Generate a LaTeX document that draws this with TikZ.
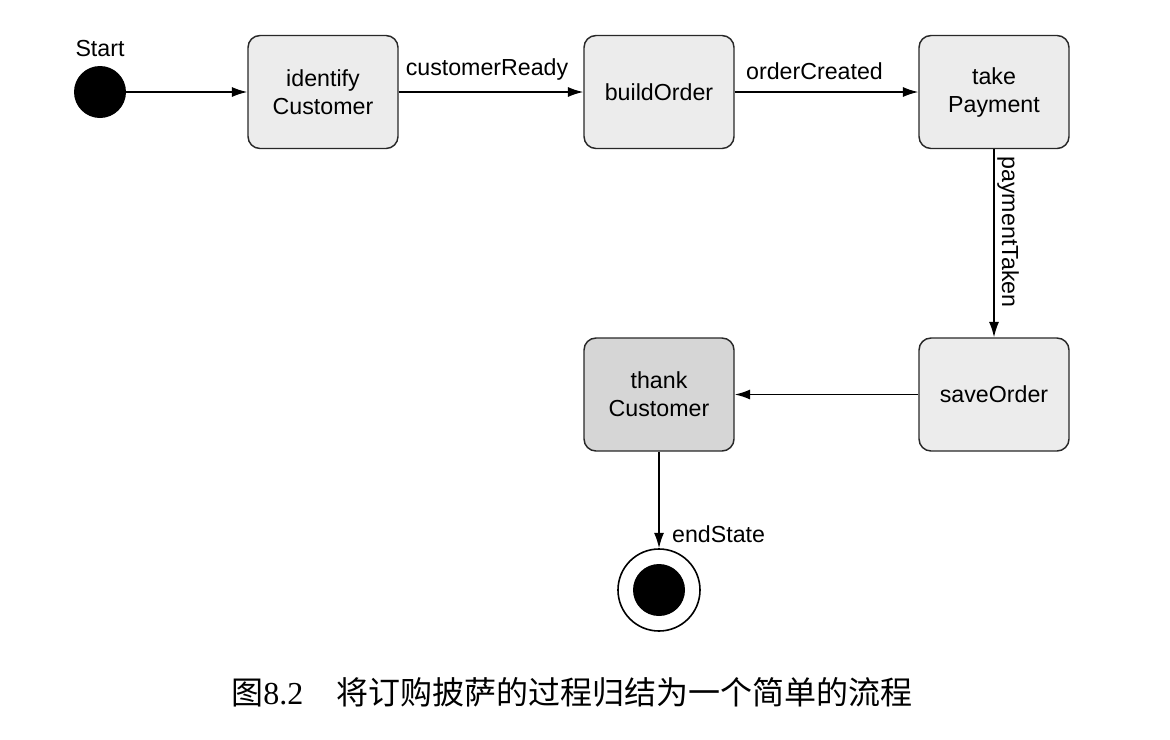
\documentclass[tikz,border=0pt]{standalone}
\usepackage{fontspec}
\setmainfont{Liberation Sans}
\newfontfamily\cjk{Noto Sans CJK SC}
\newfontfamily\capserif{Liberation Serif}
\usetikzlibrary{arrows.meta}
\definecolor{boxfill}{RGB}{236,236,236}
\definecolor{darkfill}{RGB}{214,214,214}
\definecolor{boxline}{RGB}{40,40,40}
\tikzset{
  state/.style={draw=boxline, line width=1.1pt, rounded corners=9pt, fill=boxfill,
    minimum width=112.5pt, minimum height=84.75pt, align=center, inner sep=0pt,
    font=\fontsize{17.4pt}{21pt}\selectfont},
  flow/.style={-{Latex[length=11.5pt,width=7.5pt]}, line width=1.1pt},
  lbl/.style={font=\fontsize{17.4pt}{20pt}\selectfont},
}
\begin{document}
\begin{tikzpicture}[x=0.75pt,y=-0.75pt]
\useasboundingbox (0,0) rectangle (1170,739);
% start
\node[circle, fill=black, minimum size=39pt, inner sep=0pt] (start) at (100,92) {};
\node[lbl] (startlbl) at (100,49) {Start};
% states
\node[state] (identify) at (323,92) {identify\\Customer};
\node[state] (build) at (659,92) {buildOrder};
\node[state] (pay) at (994,92) {take\\Payment};
\node[state] (save) at (994,394.5) {saveOrder};
\node[state, fill=darkfill] (thank) at (659,394.5) {thank\\Customer};
% end state
\node[circle, draw=black, line width=1.2pt, fill=white, minimum size=61.5pt, inner sep=0pt] (endst) at (659,590) {};
\node[circle, fill=black, minimum size=39pt, inner sep=0pt] (enddot) at (endst.center) {};
% connectors
\draw[flow] (start) -- (identify);
\draw[flow] (identify) -- node[lbl, above=5pt, xshift=-3pt] (l1) {customerReady} (build);
\draw[flow] (build) -- node[lbl, above=5pt, xshift=-9pt] (l2) {orderCreated} (pay);
\draw[flow] (pay) -- node[lbl, rotate=-90, anchor=south, pos=0.44, inner sep=2pt] (l3) {paymentTaken} (save);
\draw[flow] (save) -- (thank);
\draw[flow] (thank) -- node[lbl, anchor=west, pos=0.86, xshift=6pt] (l4) {endState} (endst);
% caption
\node (caption) at (572,692) {\fontsize{24pt}{30pt}\selectfont\cjk 图\capserif 8.2\hspace{25pt}\cjk 将订购披萨的过程归结为一个简单的流程};
\end{tikzpicture}
\end{document}
